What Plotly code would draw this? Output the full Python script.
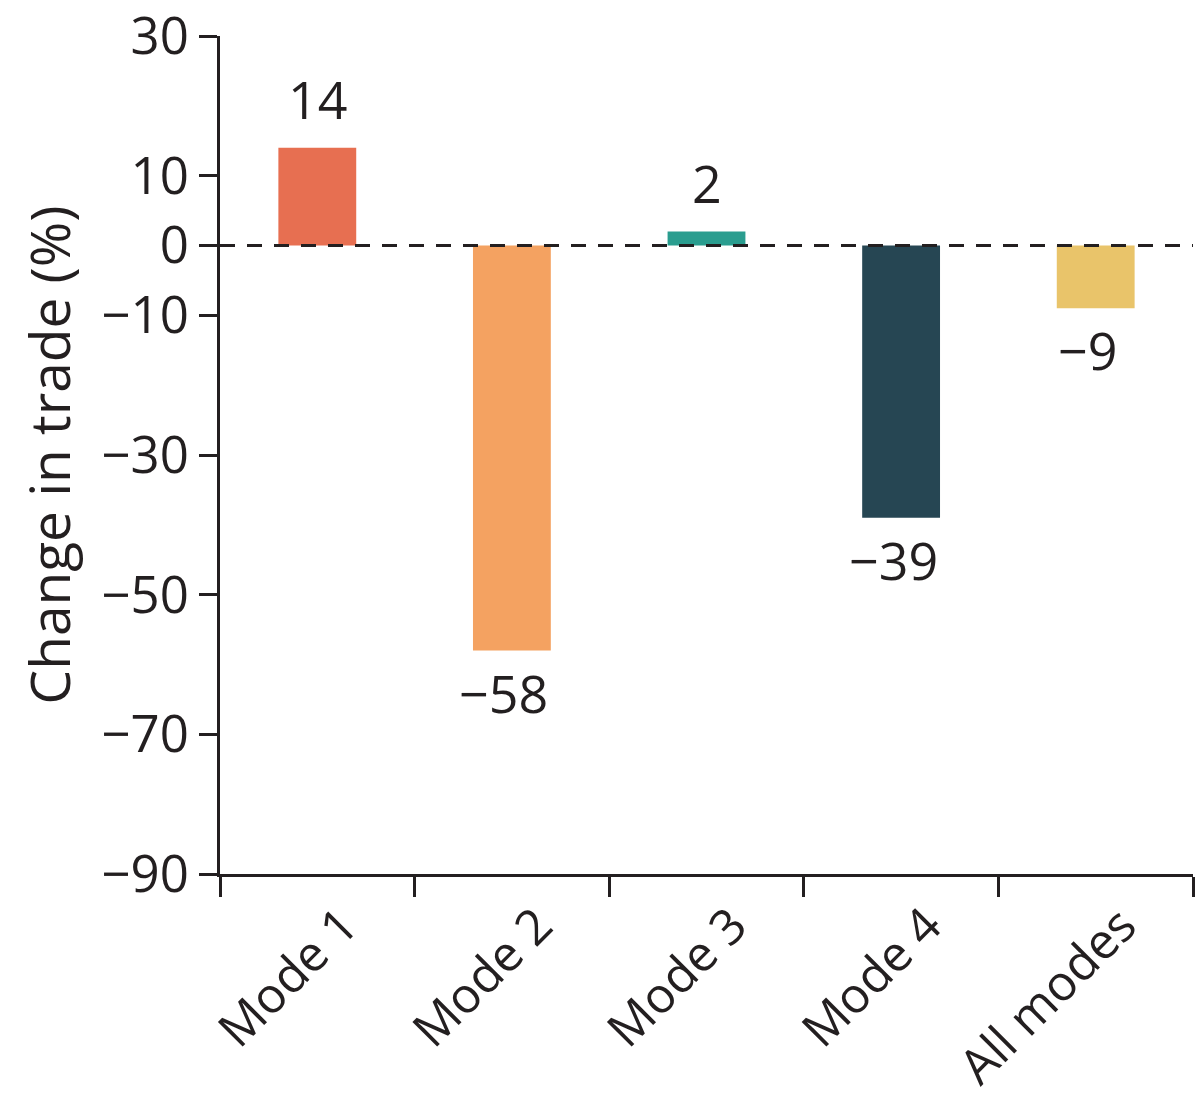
import plotly.graph_objects as go

categories = ["Mode 1", "Mode 2", "Mode 3", "Mode 4", "All modes"]
values = [14, -58, 2, -39, -9]
bar_colors = ["#E76F51", "#F4A261", "#2A9D8F", "#264653", "#E9C46A"]
y_tickvals = [30, 10, 0, -10, -30, -50, -70, -90]

ink = "#231F20"
font_family = "Open Sans, Noto Sans, sans-serif"

fig = go.Figure()
fig.add_trace(go.Bar(
    x=categories, y=values,
    marker=dict(color=bar_colors, line=dict(width=0)),
    width=0.4,
    showlegend=False,
    hoverinfo="skip",
))

for c, v in zip(categories, values):
    fig.add_annotation(
        x=c, y=v, text=str(v).replace("-", "\u2212"), showarrow=False,
        yanchor="bottom" if v >= 0 else "top",
        yshift=12 if v >= 0 else -4,
        xshift=0 if v >= 0 else -8,
        font=dict(family=font_family, size=52, color=ink),
    )

fig.add_shape(type="line", xref="paper", yref="y", x0=0, x1=1, y0=0, y1=0,
              line=dict(color=ink, width=3, dash="15px,12px"), layer="above")

fig.update_layout(
    width=1196, height=1107,
    margin=dict(l=220, r=3, t=36, b=233, pad=0, autoexpand=False),
    paper_bgcolor="white", plot_bgcolor="white",
    font=dict(family=font_family, color=ink),
    bargap=0.6,
)
fig.update_xaxes(
    type="category", range=[-0.5, 4.5], automargin=False,
    showline=True, linecolor=ink, linewidth=3,
    ticks="outside", ticklen=20, tickwidth=3, tickcolor=ink,
    tickson="boundaries",
    tickangle=-45, tickfont=dict(size=49, color=ink),
    ticklabelshift=26, ticklabelstandoff=0,
    showgrid=False, zeroline=False,
)
fig.update_yaxes(
    range=[-90, 30], tickvals=y_tickvals, automargin=False,
    showline=True, linecolor=ink, linewidth=3,
    ticks="outside", ticklen=18, tickwidth=3, tickcolor=ink,
    tickfont=dict(size=51, color=ink),
    ticklabeloverflow="allow",
    showgrid=False, zeroline=False,
    title=dict(text="Change in trade (%)", font=dict(size=55, color=ink), standoff=14),
)

fig.write_html("out.html")
